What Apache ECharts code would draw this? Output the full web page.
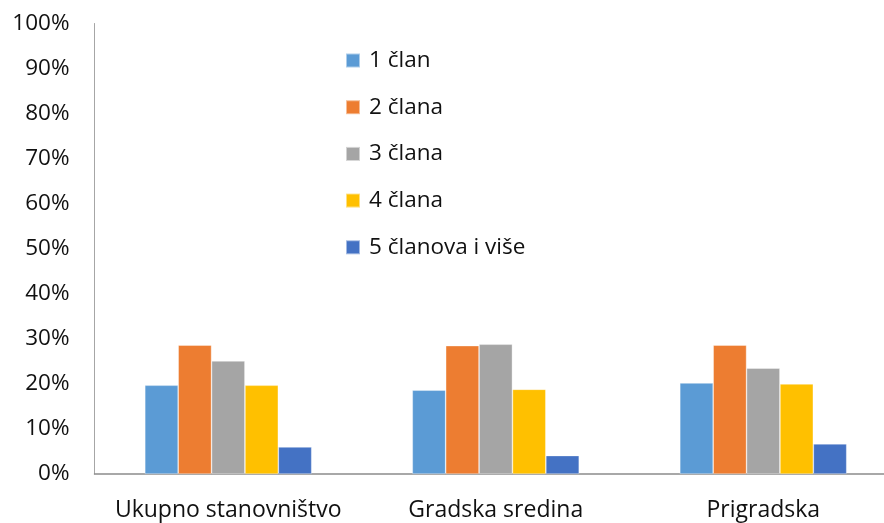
<!DOCTYPE html>
<html><head><meta charset="utf-8">
<script src="https://cdn.jsdelivr.net/npm/echarts@6/dist/echarts.min.js"></script>
<style>html,body{margin:0;padding:0;background:#fff;overflow:hidden}#c{width:897px;height:523px}</style>
</head><body><div id="c"></div>
<script>
const categories = ['Ukupno stanovništvo', 'Gradska sredina', 'Prigradska'];
const seriesNames = ['1 član', '2 člana', '3 člana', '4 člana', '5 članova i više'];
const colors = ['#5B9BD5', '#ED7D31', '#A5A5A5', '#FFC000', '#4472C4'];
const clan1 = [19.7, 18.6, 20.2];
const clan2 = [28.6, 28.5, 28.6];
const clan3 = [25.1, 28.8, 23.5];
const clan4 = [19.7, 18.8, 20.0];
const clan5 = [6.0, 4.1, 6.7];
const yTicks = [0, 10, 20, 30, 40, 50, 60, 70, 80, 90, 100];
const values = [clan1, clan2, clan3, clan4, clan5];

const font = 'Open Sans, Noto Sans, sans-serif';
const fs = 22.5;
const chart = echarts.init(document.getElementById('c'), null, {renderer: 'canvas'});
chart.setOption({
  animation: false,
  color: colors,
  grid: {left: 94.5, right: 0, top: 23.5, bottom: 49, containLabel: false},
  legend: {
    orient: 'vertical', left: 340, top: 43.5,
    itemWidth: 14, itemHeight: 14, itemGap: 22.7,
    icon: 'rect',
    textStyle: {fontSize: fs, fontFamily: font, color: '#111', lineHeight: 24, padding: [0, 0, 0, 4]},
    data: seriesNames
  },
  xAxis: {
    type: 'category', data: categories,
    axisLine: {lineStyle: {color: '#8c8c8c', width: 1.5}},
    axisTick: {show: false},
    axisLabel: {interval: 0, fontSize: 23, fontFamily: font, color: '#111', margin: 25}
  },
  yAxis: {
    type: 'value', min: yTicks[0], max: yTicks[yTicks.length - 1], interval: 10,
    axisLine: {show: true, lineStyle: {color: '#a6a6a6', width: 1}},
    axisTick: {show: false},
    splitLine: {show: false},
    axisLabel: {fontSize: fs, fontFamily: font, color: '#111', margin: 25, formatter: v => v + '%'}
  },
  series: values.map((d, i) => ({
    name: seriesNames[i], type: 'bar', data: d,
    barGap: '0%', barCategoryGap: '37.6%',
    itemStyle: {color: colors[i], borderColor: 'rgba(255,255,255,0.5)', borderWidth: 0.7}
  }))
});
</script></body></html>
